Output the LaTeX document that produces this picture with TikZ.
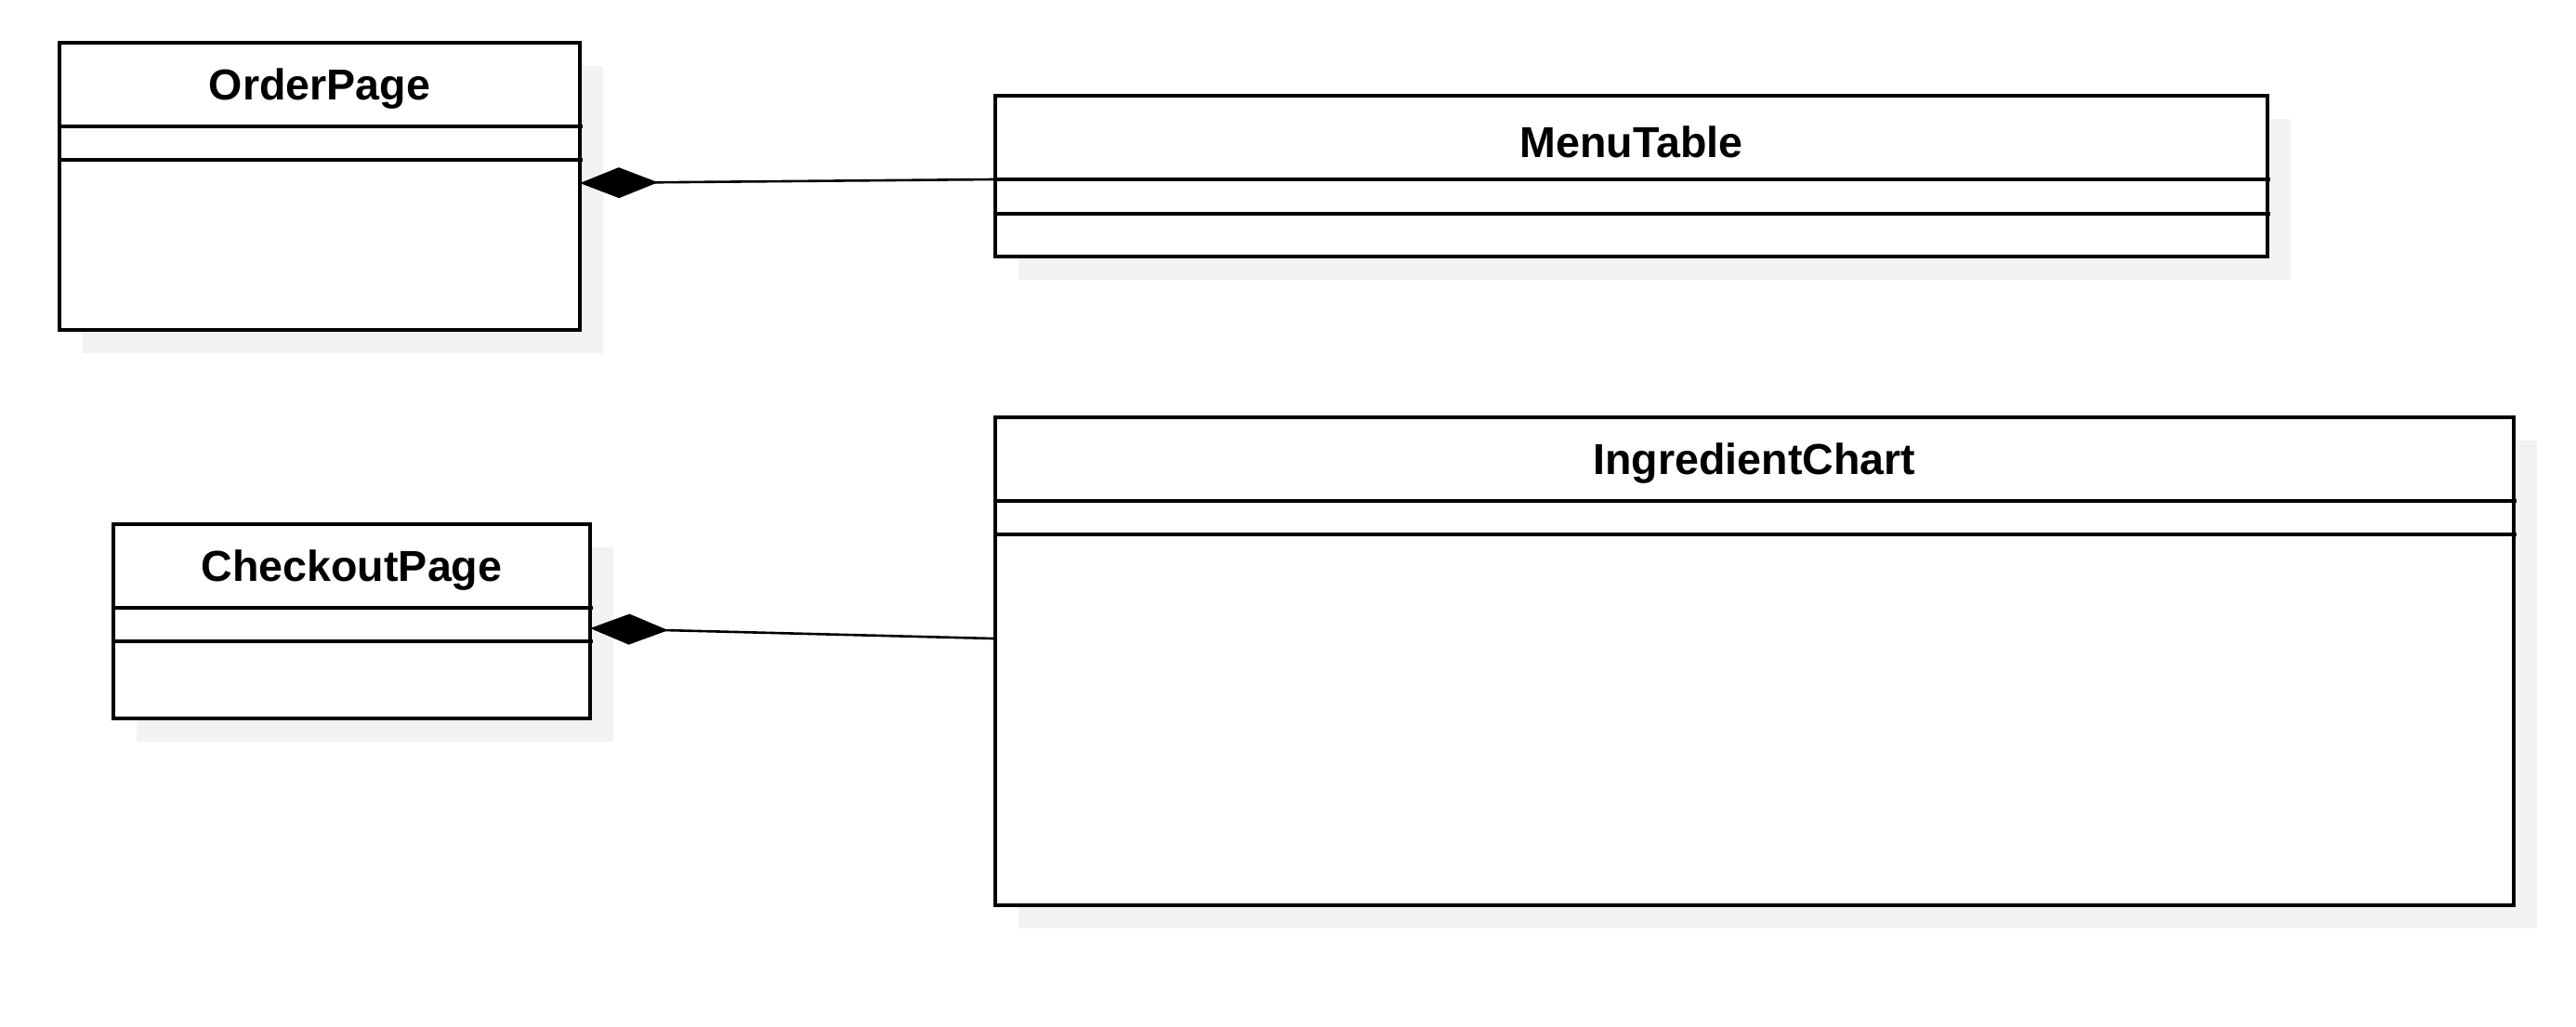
\documentclass[tikz,border=0pt]{standalone}
\usepackage{fontspec}
\setmainfont{Liberation Sans}
\usetikzlibrary{arrows.meta,positioning,shadows}

\begin{document}
\begin{tikzpicture}[x=1pt,y=-1pt]

	\tikzstyle class box=[draw, line width=1.8pt, fill=white, inner sep=0pt, outer sep=0pt, anchor=north west,
		drop shadow={shadow xshift=12.5pt, shadow yshift=-12.5pt, fill=black!5, opacity=1}];
	\tikzstyle class name=[font=\fontsize{23.3}{28}\selectfont\bfseries, inner sep=0pt, minimum height=45pt, yshift=-2pt];
	\tikzstyle box line=[line width=1.8pt];
	\tikzstyle composition=[line width=1.3pt, {Diamond[length=42pt,width=16.5pt]}-];

	\useasboundingbox (0,0) rectangle (1386,552);

	% classes
	\node[class box, minimum width=280pt, minimum height=154.5pt] (orderpage) at (32,23) {};
	\node[class name, below=0pt of orderpage.north] (orderpage name) {OrderPage};
	\draw[box line] ([yshift=-45pt]orderpage.north west) -- ([yshift=-45pt,xshift=1.5pt]orderpage.north east);
	\draw[box line] ([yshift=-63pt]orderpage.north west) -- ([yshift=-63pt,xshift=1.5pt]orderpage.north east);

	\node[class box, minimum width=684.5pt, minimum height=86.5pt] (menutable) at (535.5,51.5) {};
	\node[class name, below=0pt of menutable.north] (menutable name) {MenuTable};
	\draw[box line] ([yshift=-45pt]menutable.north west) -- ([yshift=-45pt,xshift=1.5pt]menutable.north east);
	\draw[box line] ([yshift=-63.5pt]menutable.north west) -- ([yshift=-63.5pt,xshift=1.5pt]menutable.north east);

	\node[class box, minimum width=256.5pt, minimum height=104.5pt] (checkoutpage) at (61,282) {};
	\node[class name, below=0pt of checkoutpage.north] (checkoutpage name) {CheckoutPage};
	\draw[box line] ([yshift=-45pt]checkoutpage.north west) -- ([yshift=-45pt,xshift=1.5pt]checkoutpage.north east);
	\draw[box line] ([yshift=-63pt]checkoutpage.north west) -- ([yshift=-63pt,xshift=1.5pt]checkoutpage.north east);

	\node[class box, minimum width=817pt, minimum height=262.5pt] (ingredientchart) at (535.5,224.5) {};
	\node[class name, below=0pt of ingredientchart.north] (ingredientchart name) {IngredientChart};
	\draw[box line] ([yshift=-45pt]ingredientchart.north west) -- ([yshift=-45pt,xshift=1.5pt]ingredientchart.north east);
	\draw[box line] ([yshift=-63pt]ingredientchart.north west) -- ([yshift=-63pt,xshift=1.5pt]ingredientchart.north east);

	% compositions
	\draw[composition] ([yshift=1.75pt]orderpage.east) -- ([yshift=-1.75pt,xshift=-1pt]menutable.west);
	\draw[composition] ([yshift=-3.75pt]checkoutpage.east) -- ([yshift=12.25pt,xshift=-1pt]ingredientchart.west);

\end{tikzpicture}
\end{document}
